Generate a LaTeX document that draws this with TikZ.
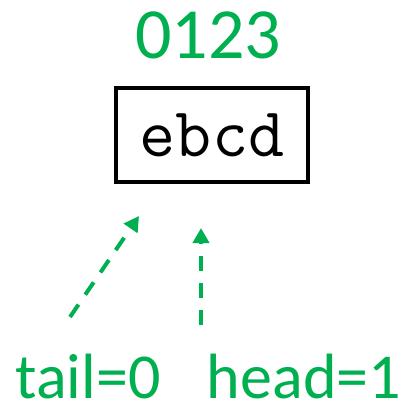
\documentclass[tikz,border=0pt]{standalone}
\usepackage{fontspec}
\setmainfont{Carlito}
\usetikzlibrary{arrows.meta}
\definecolor{ptrgreen}{RGB}{0,176,80}
\tikzset{
  idx/.style={text=ptrgreen, font=\fontsize{72}{80}\selectfont, inner sep=0pt},
  cell/.style={draw=black, line width=4pt, minimum width=192pt, minimum height=94pt,
    font=\ttfamily\fontsize{70}{74}\selectfont, inner sep=0pt},
  ptrlabel/.style={text=ptrgreen, font=\fontsize{64}{70}\selectfont, inner sep=0pt,
    text depth=0pt, anchor=base},
  ptr/.style={draw=ptrgreen, line width=4pt, dash pattern=on 15pt off 12pt,
    -{Triangle[length=15pt,width=16pt]}}
}
\begin{document}
\begin{tikzpicture}[x=1pt,y=-1pt]
  \useasboundingbox (0,0) rectangle (402,405);
  \node[idx] (nums) at (208,35) {0123};
  \node[cell] (buf) at (212,135) {ebcd};
  \node[ptrlabel] (tail) at (88,398) {tail=0};
  \node[ptrlabel] (head) at (304,398) {head=1};
  \coordinate (tailstart) at (70,317);
  \coordinate (tailend) at (139,216);
  \coordinate (headstart) at (201,325);
  \coordinate (headend) at (201,228);
  \draw[ptr] (tailstart) -- (tailend);
  \draw[ptr] (headstart) -- (headend);
\end{tikzpicture}
\end{document}
